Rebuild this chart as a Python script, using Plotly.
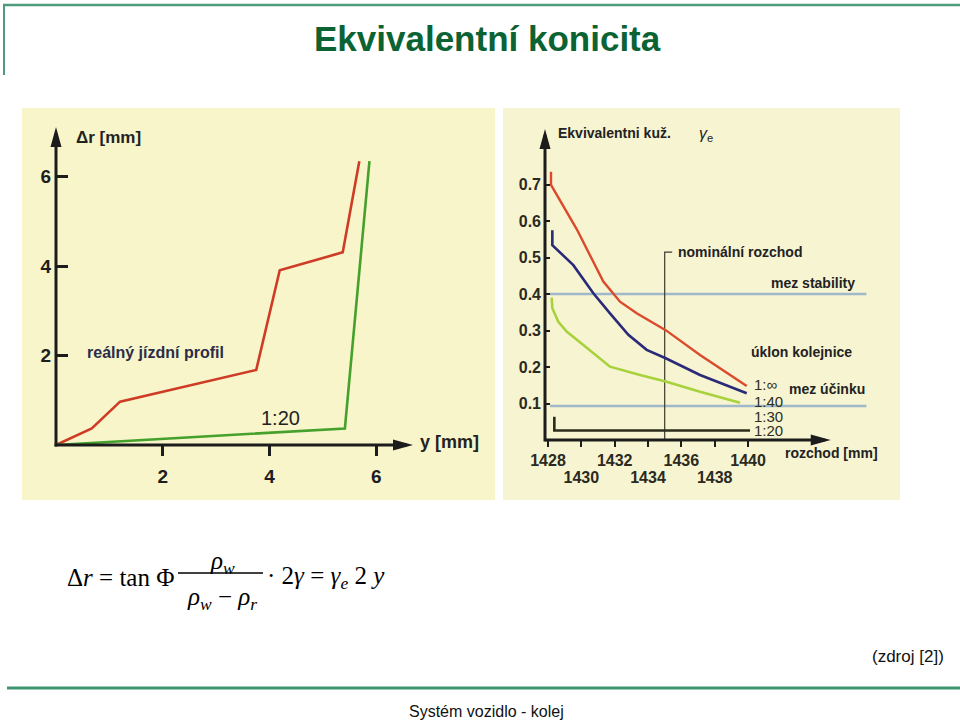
import plotly.graph_objects as go

W, H = 960, 724
SANS = "Liberation Sans, Arial, sans-serif"
SERIF = "Liberation Serif, Times New Roman, serif"

# ---- left panel: rolling-radius difference vs lateral shift ----
shift_real = [0, 0.67, 1.20, 3.75, 4.19, 5.37, 5.68]
dr_real = [0, 0.37, 0.97, 1.68, 3.91, 4.31, 6.35]
shift_cone = [0, 5.41, 5.87]
dr_cone = [0, 0.37, 6.35]
left_xticks = [2, 4, 6]
left_yticks = [2, 4, 6]

# ---- right panel: equivalent conicity vs track gauge ----
gauge_inf = [1428.18, 1428.18, 1429.72, 1431.32, 1432.32, 1433.32, 1435.06, 1437.12, 1439.92]
gam_inf = [0.735, 0.699, 0.578, 0.434, 0.379, 0.347, 0.301, 0.233, 0.148]
gauge_40 = [1428.26, 1428.26, 1429.52, 1430.72, 1431.72, 1432.82, 1433.92, 1435.06, 1437.12, 1439.92]
gam_40 = [0.575, 0.534, 0.479, 0.402, 0.347, 0.288, 0.247, 0.224, 0.178, 0.128]
gauge_30 = [1428.22, 1428.26, 1428.62, 1429.12, 1430.12, 1431.72, 1433.52, 1435.06, 1437.12, 1439.52]
gam_30 = [0.390, 0.361, 0.324, 0.297, 0.260, 0.201, 0.178, 0.160, 0.132, 0.102]
gauge_20 = [1428.38, 1428.38, 1440.12]
gam_20 = [0.064, 0.026, 0.026]
nominal_gauge = 1435
nominal_top = 0.515
limit_stability = 0.40
limit_effect = 0.093
limit_span = [1428.12, 1447.1]
right_xticks = [1428, 1430, 1432, 1434, 1436, 1438, 1440]
right_xticks_upper = ["1428", "", "1432", "", "1436", "", "1440"]
right_xticks_lower = [1430, 1434, 1438]
right_yticks = [0.1, 0.2, 0.3, 0.4, 0.5, 0.6, 0.7]


def fx(p):
    return p / W


def fy(p):
    return 1 - p / H


# panel geometry (pixels) and scales
LX0, LX1, LY0, LY1 = 56, 407, 445, 133
L_SX, L_SY = 53.4, 44.7
RX0, RX1, RY0, RY1 = 545, 880, 440, 135
R_ORIG_PX, R_ORIG_MM, R_SX, R_SY = 548, 1428, 16.67, 365
r_xrange = [R_ORIG_MM + (RX0 - R_ORIG_PX) / R_SX, R_ORIG_MM + (RX1 - R_ORIG_PX) / R_SX]
r_arrow_x = 1444.6

AXC = "#1c1c1c"
fig = go.Figure()

# left curves
fig.add_trace(go.Scatter(x=shift_real, y=dr_real, mode="lines", xaxis="x", yaxis="y",
                         line=dict(color="#cf3c26", width=2.6)))
fig.add_trace(go.Scatter(x=shift_cone, y=dr_cone, mode="lines", xaxis="x", yaxis="y",
                         line=dict(color="#45a02c", width=2.6)))

# right: limits, nominal gauge, curves
for lim in (limit_stability, limit_effect):
    fig.add_trace(go.Scatter(x=limit_span, y=[lim, lim], mode="lines", xaxis="x2", yaxis="y2",
                             line=dict(color="#9fb9cb", width=2.4)))
fig.add_trace(go.Scatter(x=[nominal_gauge, nominal_gauge, nominal_gauge + 0.45],
                         y=[0, nominal_top, nominal_top], mode="lines", xaxis="x2", yaxis="y2",
                         line=dict(color="#3a3a30", width=1.2)))
fig.add_trace(go.Scatter(x=gauge_inf, y=gam_inf, mode="lines", xaxis="x2", yaxis="y2",
                         line=dict(color="#dc4a2c", width=2.4)))
fig.add_trace(go.Scatter(x=gauge_40, y=gam_40, mode="lines", xaxis="x2", yaxis="y2",
                         line=dict(color="#2a2a78", width=2.6)))
fig.add_trace(go.Scatter(x=gauge_30, y=gam_30, mode="lines", xaxis="x2", yaxis="y2",
                         line=dict(color="#a8d23c", width=2.6)))
fig.add_trace(go.Scatter(x=gauge_20, y=gam_20, mode="lines", xaxis="x2", yaxis="y2",
                         line=dict(color="#2c2c1c", width=2.6)))
# carrier for the second row of gauge labels
fig.add_trace(go.Scatter(x=[], y=[], xaxis="x3", yaxis="y2"))

tick_font_l = dict(family=SANS, size=19, color="#1e1e1e", weight="bold")
tick_font_r = dict(family=SANS, size=16, color="#2a2a1e", weight="bold")
common = dict(showgrid=False, zeroline=False, showline=False, fixedrange=True, automargin=False)

layout_axes = dict(
    xaxis=dict(domain=[fx(LX0), fx(LX1)], range=[0, (LX1 - LX0) / L_SX], anchor="y",
               tickvals=left_xticks, ticks="outside", ticklen=10, tickwidth=2.5, tickcolor=AXC,
               tickfont=tick_font_l, ticklabelstandoff=4, **common),
    yaxis=dict(domain=[fy(LY0), fy(LY1)], range=[0, (LY0 - LY1) / L_SY], anchor="x",
               tickvals=left_yticks, ticks="inside", ticklen=12, tickwidth=2.5, tickcolor=AXC,
               tickfont=tick_font_l, ticklabelstandoff=4, **common),
    xaxis2=dict(domain=[fx(RX0), fx(RX1)], range=r_xrange, anchor="y2",
                tickvals=right_xticks, ticktext=right_xticks_upper, ticks="outside", ticklen=6,
                tickwidth=2, tickcolor=AXC, tickfont=tick_font_r, ticklabelstandoff=0, **common),
    xaxis3=dict(overlaying="x2", range=r_xrange, anchor="y2",
                tickvals=right_xticks_lower, ticks="outside", ticklen=6, tickwidth=2, tickcolor=AXC,
                tickfont=tick_font_r, ticklabelstandoff=17, **common),
    yaxis2=dict(domain=[fy(RY0), fy(RY1)], range=[0, (RY0 - RY1) / R_SY], anchor="x2",
                tickvals=right_yticks, ticktext=[f"{v:.1f}" for v in right_yticks],
                ticks="inside", ticklen=5, tickwidth=2, tickcolor=AXC,
                tickfont=tick_font_r, ticklabelstandoff=3, **common),
)

shapes = []
# photo-like panel backgrounds
shapes.append(dict(type="rect", xref="paper", yref="paper", x0=fx(22), x1=fx(495), y0=fy(500), y1=fy(108),
                   fillcolor="#f8f5cb", line=dict(width=0), layer="below"))
shapes.append(dict(type="rect", xref="paper", yref="paper", x0=fx(503), x1=fx(900), y0=fy(500), y1=fy(108),
                   fillcolor="#f7f4d2", line=dict(width=0), layer="below"))

# left axes with arrowheads
shapes.append(dict(type="line", xref="x domain", yref="y domain", x0=-0.004, x1=1, y0=0, y1=0,
                   line=dict(color=AXC, width=3)))
shapes.append(dict(type="line", xref="x domain", yref="y domain", x0=0, x1=0, y0=-0.005, y1=1,
                   line=dict(color=AXC, width=3)))
shapes.append(dict(type="path", xref="x domain", yref="y domain", xsizemode="pixel", ysizemode="pixel",
                   xanchor=1, yanchor=0, path="M6,0 L-14,5.5 L-14,-5.5 Z",
                   fillcolor=AXC, line=dict(width=0)))
shapes.append(dict(type="path", xref="x domain", yref="y domain", xsizemode="pixel", ysizemode="pixel",
                   xanchor=0, yanchor=1, path="M0,6 L5.5,-14 L-5.5,-14 Z",
                   fillcolor=AXC, line=dict(width=0)))

# right axes with arrowheads
shapes.append(dict(type="line", xref="x2", yref="y2 domain", x0=r_xrange[0], x1=r_arrow_x, y0=0, y1=0,
                   line=dict(color=AXC, width=3)))
shapes.append(dict(type="line", xref="x2 domain", yref="y2 domain", x0=0, x1=0, y0=-0.005, y1=1,
                   line=dict(color=AXC, width=3)))
shapes.append(dict(type="path", xref="x2", yref="y2 domain", xsizemode="pixel", ysizemode="pixel",
                   xanchor=r_arrow_x, yanchor=0, path="M6,0 L-14,5.5 L-14,-5.5 Z",
                   fillcolor=AXC, line=dict(width=0)))
shapes.append(dict(type="path", xref="x2 domain", yref="y2 domain", xsizemode="pixel", ysizemode="pixel",
                   xanchor=0, yanchor=1, path="M0,6 L5.5,-14 L-5.5,-14 Z",
                   fillcolor=AXC, line=dict(width=0)))

# slide frame lines
SLIDE_GREEN = "#4c9b7a"
shapes.append(dict(type="line", xref="paper", yref="paper", x0=fx(3), x1=1, y0=fy(5), y1=fy(5),
                   line=dict(color=SLIDE_GREEN, width=2.5)))
shapes.append(dict(type="line", xref="paper", yref="paper", x0=fx(4), x1=fx(4), y0=fy(5), y1=fy(75),
                   line=dict(color=SLIDE_GREEN, width=2)))
shapes.append(dict(type="line", xref="paper", yref="paper", x0=fx(7), x1=1, y0=fy(688), y1=fy(688),
                   line=dict(color="#3e9670", width=3)))
# fraction bar of the formula
shapes.append(dict(type="line", xref="paper", yref="paper", x0=fx(178), x1=fx(263), y0=fy(573), y1=fy(573),
                   line=dict(color="black", width=1.4)))

annotations = []


def label(text, x, y, size, xanchor="left", color="#1e1e1e", bold=False, family=SANS, yanchor="middle"):
    f = dict(family=family, size=size, color=color)
    if bold:
        f["weight"] = "bold"
    annotations.append(dict(text=text, xref="paper", yref="paper", x=fx(x), y=fy(y), showarrow=False,
                            xanchor=xanchor, yanchor=yanchor, font=f))


# title and footer
label("Ekvivalentní konicita", 487, 38, 35, xanchor="center", color="#0b6334", bold=True)
label("(zdroj [2])", 946, 656, 17, xanchor="right", color="#111111")
label("Systém vozidlo - kolej", 486, 711, 16, xanchor="center", color="#111111")

# left panel labels
label("Δr [mm]", 74, 137, 17, bold=True, color="#222222")
label("y [mm]", 418, 442, 18, bold=True, color="#222222")
label("reálný jízdní profil", 85, 353, 16, bold=True, color="#2b2d48")
label("1:20", 259, 418, 20, color="#222222")

# right panel labels
label("Ekvivalentni kuž.", 556, 133, 14, bold=True, color="#222222")
label("<i>γ</i><sub>e</sub>", 697, 134, 16, color="#222222")
label("nominální rozchod", 676, 252, 14, bold=True, color="#222222")
label("mez stability", 769, 283, 14, bold=True, color="#222222")
label("úklon kolejnice", 749, 352, 14, bold=True, color="#222222")
label("mez účinku", 787, 389, 14, bold=True, color="#222222")
label("1:∞", 752, 384, 15, color="#2e2e22")
label("1:40", 752, 401, 15, color="#2e2e22")
label("1:30", 752, 416, 15, color="#2e2e22")
label("1:20", 752, 431, 15, color="#2e2e22")
label("rozchod [mm]", 783, 453, 14, bold=True, color="#222222")

# formula
label("Δ<i>r</i> = tan Φ", 176, 577, 25, xanchor="right", color="black", family=SERIF)
label("<i>ρ</i><sub><i>w</i></sub>", 222, 562, 25, xanchor="center", color="black", family=SERIF)
label("<i>ρ</i><sub><i>w</i></sub> − <i>ρ</i><sub><i>r</i></sub>", 222, 598, 25, xanchor="center",
      color="black", family=SERIF)
label("· 2<i>γ</i> = <i>γ</i><sub><i>e</i></sub> 2 <i>y</i>", 265, 577, 25, color="black", family=SERIF)

fig.update_layout(
    width=W, height=H, margin=dict(l=0, r=0, t=0, b=0),
    paper_bgcolor="white", plot_bgcolor="rgba(0,0,0,0)",
    showlegend=False, shapes=shapes, annotations=annotations,
    **layout_axes,
)

fig.write_html("out.html")
